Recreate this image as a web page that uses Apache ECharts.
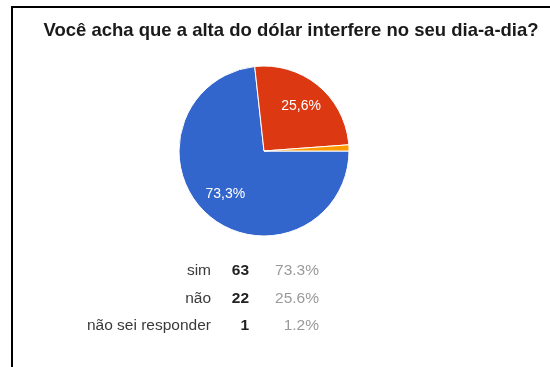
<!DOCTYPE html>
<html>
<head>
<meta charset="utf-8">
<style>
  html, body { margin: 0; padding: 0; background: #fff; }
  #chart { width: 550px; height: 367px; }
</style>
<script src="https://cdn.jsdelivr.net/npm/echarts@6/dist/echarts.min.js"></script>
</head>
<body>
<div id="chart"></div>
<script>
// Survey answers
const titleText = 'Você acha que a alta do dólar interfere no seu dia-a-dia?';
const categories = ['sim', 'não', 'não sei responder'];
const counts = [63, 22, 1];
const colors = ['#3366cc', '#dc3912', '#ff9900'];

const FONT = '"Liberation Sans", Arial, sans-serif';
const total = counts.reduce((a, b) => a + b, 0);
const pct = v => (v / total * 100).toFixed(1);

const pieData = categories.map((name, i) => ({
  name: name,
  value: counts[i],
  itemStyle: { color: colors[i] }
}));

// Answer table under the pie: label | count | share
const rowY = [271, 299, 326];
const tableText = [];
categories.forEach((name, i) => {
  tableText.push({
    type: 'text', x: 211, y: rowY[i],
    style: { text: name, fill: '#3a3a3a', font: '15.5px ' + FONT, align: 'right', verticalAlign: 'middle' }
  });
  tableText.push({
    type: 'text', x: 249, y: rowY[i],
    style: { text: String(counts[i]), fill: '#222', font: 'bold 15.5px ' + FONT, align: 'right', verticalAlign: 'middle' }
  });
  tableText.push({
    type: 'text', x: 319, y: rowY[i],
    style: { text: pct(counts[i]) + '%', fill: '#9a9a9a', font: '15.5px ' + FONT, align: 'right', verticalAlign: 'middle' }
  });
});

const chart = echarts.init(document.getElementById('chart'), null, { renderer: 'canvas' });
chart.setOption({
  animation: false,
  backgroundColor: '#fff',
  title: {
    text: titleText,
    left: 291,
    textAlign: 'center',
    top: 21,
    padding: 0,
    textStyle: { fontFamily: FONT, fontSize: 18.5, fontWeight: 'bold', color: '#1a1a1a' }
  },
  graphic: [
    // frame lines along the top and left
    { type: 'line', shape: { x1: 11, y1: 7, x2: 550, y2: 7 }, style: { stroke: '#000', lineWidth: 2 } },
    { type: 'line', shape: { x1: 12, y1: 6, x2: 12, y2: 367 }, style: { stroke: '#000', lineWidth: 2 } }
  ].concat(tableText),
  series: [
    {
      type: 'pie',
      center: [264, 151],
      radius: [0, 85],
      startAngle: 0,
      clockwise: true,
      silent: true,
      data: pieData,
      itemStyle: { borderColor: '#fff', borderWidth: 1 },
      label: { show: false },
      labelLine: { show: false }
    },
    {
      // transparent ring carrying the in-slice percentage labels
      type: 'pie',
      center: [264, 151],
      radius: [25, 85],
      startAngle: 0,
      clockwise: true,
      silent: true,
      data: pieData.map(d => ({ name: d.name, value: d.value, itemStyle: { color: 'transparent' } })),
      itemStyle: { borderWidth: 0 },
      label: {
        position: 'inside',
        color: '#fff',
        fontFamily: FONT,
        fontSize: 14,
        formatter: p => (p.value / total * 100 < 5) ? '' : pct(p.value).replace('.', ',') + '%'
      },
      labelLine: { show: false }
    }
  ]
});
</script>
</body>
</html>
